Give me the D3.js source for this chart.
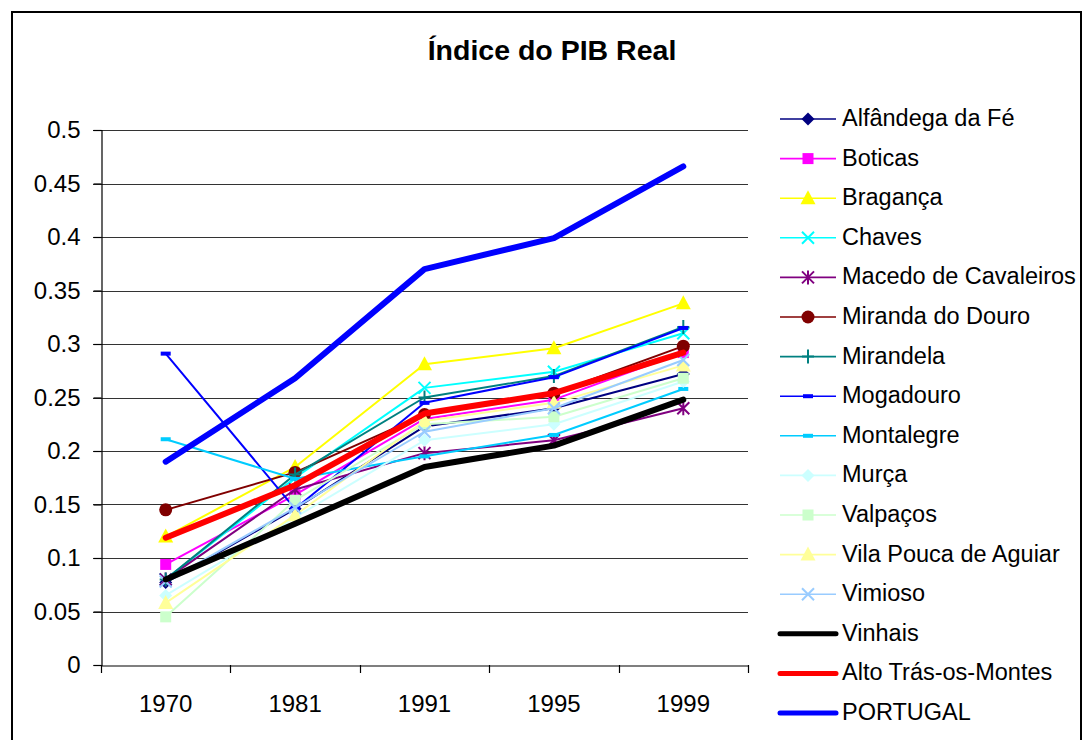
<!DOCTYPE html>
<html>
<head>
<meta charset="utf-8">
<script src="https://cdn.jsdelivr.net/npm/d3@7"></script>
<style>
  body { margin: 0; background: #fff; }
  text { font-family: "Liberation Sans", Arial, sans-serif; }
</style>
</head>
<body>
<div id="chart"></div>
<script>
// dados ------------------------------------------
const anos = ["1970", "1981", "1991", "1995", "1999"];
const yTicks = [0, 0.05, 0.1, 0.15, 0.2, 0.25, 0.3, 0.35, 0.4, 0.45, 0.5];

const alfandega = [0.077, 0.146, 0.223, 0.240, 0.272];
const boticas = [0.094, 0.159, 0.230, 0.248, 0.292];
const braganca = [0.120, 0.185, 0.281, 0.296, 0.338];
const chaves = [0.080, 0.175, 0.259, 0.274, 0.310];
const macedo = [0.080, 0.164, 0.198, 0.210, 0.240];
const miranda = [0.145, 0.180, 0.234, 0.254, 0.298];
const mirandela = [0.080, 0.178, 0.250, 0.270, 0.316];
const mogadouro = [0.291, 0.146, 0.245, 0.269, 0.315];
const montalegre = [0.211, 0.174, 0.195, 0.215, 0.258];
const murca = [0.065, 0.138, 0.210, 0.225, 0.265];
const valpacos = [0.045, 0.154, 0.225, 0.232, 0.268];
const vilaPouca = [0.058, 0.140, 0.228, 0.245, 0.280];
const vimioso = [0.078, 0.147, 0.218, 0.240, 0.285];
const vinhais = [0.080, 0.132, 0.185, 0.205, 0.248];
const altoTras = [0.119, 0.168, 0.235, 0.254, 0.292];
const portugal = [0.190, 0.268, 0.370, 0.399, 0.466];

const series = [
  { nome: "Alfândega da Fé", valores: alfandega, cor: "#000080", marca: "diamond", larg: 2 },
  { nome: "Boticas", valores: boticas, cor: "#FF00FF", marca: "square", larg: 2 },
  { nome: "Bragança", valores: braganca, cor: "#FFFF00", marca: "triangle", larg: 2 },
  { nome: "Chaves", valores: chaves, cor: "#00FFFF", marca: "x", larg: 2 },
  { nome: "Macedo de Cavaleiros", valores: macedo, cor: "#800080", marca: "star", larg: 2 },
  { nome: "Miranda do Douro", valores: miranda, cor: "#800000", marca: "circle", larg: 2 },
  { nome: "Mirandela", valores: mirandela, cor: "#008080", marca: "plus", larg: 2 },
  { nome: "Mogadouro", valores: mogadouro, cor: "#0000FF", marca: "dash", larg: 2 },
  { nome: "Montalegre", valores: montalegre, cor: "#00CCFF", marca: "dash", larg: 2 },
  { nome: "Murça", valores: murca, cor: "#CCFFFF", marca: "diamond", larg: 2 },
  { nome: "Valpaços", valores: valpacos, cor: "#CCFFCC", marca: "square", larg: 2 },
  { nome: "Vila Pouca de Aguiar", valores: vilaPouca, cor: "#FFFF99", marca: "triangle", larg: 2 },
  { nome: "Vimioso", valores: vimioso, cor: "#99CCFF", marca: "x", larg: 2 },
  { nome: "Vinhais", valores: vinhais, cor: "#000000", marca: "none", larg: 6 },
  { nome: "Alto Trás-os-Montes", valores: altoTras, cor: "#FF0000", marca: "none", larg: 6 },
  { nome: "PORTUGAL", valores: portugal, cor: "#0000FF", marca: "none", larg: 6 }
];

// dimensões ------------------------------------------
const W = 1083, H = 740;
const plot = { left: 101, right: 748, top: 130, bottom: 665 };
const fonte = "Liberation Sans, Arial, sans-serif";

const svg = d3.select("#chart").append("svg")
  .attr("width", W).attr("height", H);

// moldura exterior
svg.append("rect")
  .attr("x", 12).attr("y", 12)
  .attr("width", W - 14).attr("height", H + 10)
  .attr("fill", "#fff").attr("stroke", "#000").attr("stroke-width", 2);

// título
svg.append("text")
  .attr("x", 552).attr("y", 60)
  .attr("text-anchor", "middle")
  .attr("font-size", "28.5px").attr("font-weight", "bold")
  .text("Índice do PIB Real");

// escalas
const x = d3.scaleBand().domain(anos).range([plot.left, plot.right]);
const y = d3.scaleLinear().domain([0, 0.5]).range([plot.bottom, plot.top]);
const cx = d => x(d) + x.bandwidth() / 2;

// linhas de grelha
svg.append("g")
  .selectAll("line")
  .data(yTicks.filter(t => t > 0))
  .join("line")
  .attr("x1", plot.left - 8).attr("x2", plot.right)
  .attr("y1", d => Math.round(y(d)) + 0.5).attr("y2", d => Math.round(y(d)) + 0.5)
  .attr("stroke", "#333").attr("stroke-width", 1.2);

// eixo Y
const eixoY = svg.append("g")
  .attr("transform", `translate(${plot.left + 0.5},0)`)
  .call(d3.axisLeft(y).tickValues(yTicks).tickSize(8).tickPadding(13)
    .tickFormat(d => d === 0 ? "0" : String(+d.toFixed(2))));
eixoY.selectAll("text").attr("font-size", "24px").attr("fill", "#000")
  .attr("font-family", fonte);
eixoY.select(".domain").attr("stroke", "#000").attr("stroke-width", 1.2);
eixoY.selectAll(".tick line").attr("stroke", "#000").attr("stroke-width", 1.2);

// eixo X
const eixoX = svg.append("g")
  .attr("transform", `translate(0,${plot.bottom + 0.5})`)
  .call(d3.axisBottom(x).tickSize(0).tickPadding(29));
eixoX.selectAll("text").attr("font-size", "24px").attr("fill", "#000")
  .attr("font-family", fonte);
eixoX.select(".domain").attr("stroke", "#000").attr("stroke-width", 1.2);
// marcas entre categorias
svg.append("g")
  .selectAll("line")
  .data(anos.concat(["fim"]))
  .join("line")
  .attr("x1", (d, i) => Math.round(plot.left + i * x.bandwidth()) + 0.5)
  .attr("x2", (d, i) => Math.round(plot.left + i * x.bandwidth()) + 0.5)
  .attr("y1", plot.bottom).attr("y2", plot.bottom + 8)
  .attr("stroke", "#000").attr("stroke-width", 1.2);

// símbolos
function desenhaMarca(g, tipo, cor, px, py) {
  if (tipo === "diamond") {
    g.append("path").attr("d", `M${px},${py - 6.5}L${px + 6.5},${py}L${px},${py + 6.5}L${px - 6.5},${py}Z`).attr("fill", cor);
  } else if (tipo === "square") {
    g.append("rect").attr("x", px - 5.5).attr("y", py - 5.5).attr("width", 11).attr("height", 11).attr("fill", cor);
  } else if (tipo === "triangle") {
    g.append("path").attr("d", `M${px},${py - 8}L${px + 7.5},${py + 6}L${px - 7.5},${py + 6}Z`).attr("fill", cor);
  } else if (tipo === "circle") {
    g.append("circle").attr("cx", px).attr("cy", py).attr("r", 6.5).attr("fill", cor);
  } else if (tipo === "x") {
    g.append("path").attr("d", `M${px - 6},${py - 6}L${px + 6},${py + 6}M${px - 6},${py + 6}L${px + 6},${py - 6}`)
      .attr("stroke", cor).attr("stroke-width", 2);
  } else if (tipo === "star") {
    g.append("path").attr("d", `M${px - 6},${py - 6}L${px + 6},${py + 6}M${px - 6},${py + 6}L${px + 6},${py - 6}M${px},${py - 7}L${px},${py + 7}`)
      .attr("stroke", cor).attr("stroke-width", 2);
  } else if (tipo === "plus") {
    g.append("path").attr("d", `M${px - 6},${py}L${px + 6},${py}M${px},${py - 7}L${px},${py + 7}`)
      .attr("stroke", cor).attr("stroke-width", 2);
  } else if (tipo === "dash") {
    g.append("rect").attr("x", px - 5).attr("y", py - 2).attr("width", 10).attr("height", 4).attr("fill", cor);
  }
}

const linha = d3.line().x((d, i) => cx(anos[i])).y(d => y(d));

const gLinhas = svg.append("g");
series.forEach(s => {
  const g = gLinhas.append("g");
  g.append("path")
    .attr("d", linha(s.valores))
    .attr("fill", "none")
    .attr("stroke", s.cor)
    .attr("stroke-width", s.larg)
    .attr("stroke-linejoin", "round")
    .attr("stroke-linecap", "round");
  s.valores.forEach((v, i) => desenhaMarca(g, s.marca, s.cor, cx(anos[i]), y(v)));
});

// legenda
const leg = svg.append("g");
series.forEach((s, i) => {
  const ly = 119 + i * 39.6;
  const g = leg.append("g");
  g.append("line")
    .attr("x1", 780).attr("x2", 836)
    .attr("y1", ly).attr("y2", ly)
    .attr("stroke", s.cor).attr("stroke-width", s.larg === 6 ? 5 : 1.6)
    .attr("stroke-linecap", s.marca === "none" ? "round" : "butt");
  desenhaMarca(g, s.marca, s.cor, 808, ly);
  g.append("text")
    .attr("x", 842).attr("y", ly + 7)
    .attr("font-size", "23.5px")
    .text(s.nome);
});
</script>
</body>
</html>
